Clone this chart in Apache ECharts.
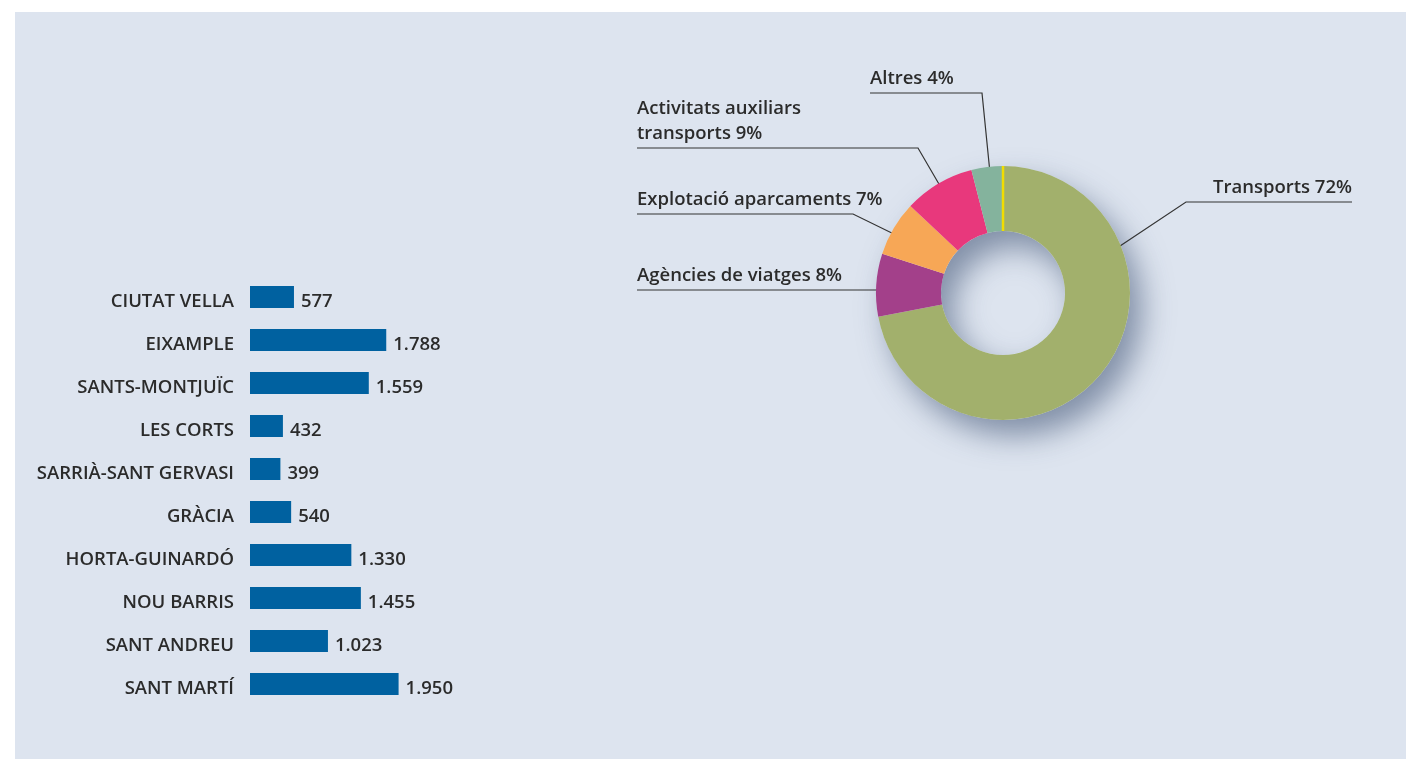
<!DOCTYPE html>
<html>
<head>
<meta charset="utf-8">
<script src="https://cdn.jsdelivr.net/npm/echarts@6/dist/echarts.min.js"></script>
<style>
  html, body { margin: 0; padding: 0; background: #fff; }
  #panel { position: absolute; left: 15px; top: 12px; width: 1391px; height: 747px; background: #dde4ef; }
  #chart { position: absolute; left: 0; top: 0; width: 1406px; height: 759px; }
</style>
</head>
<body>
<div id="panel"></div>
<div id="chart"></div>
<script>
// districtes (barres)
const districtes = [
  "CIUTAT VELLA", "EIXAMPLE", "SANTS-MONTJUÏC", "LES CORTS", "SARRIÀ-SANT GERVASI",
  "GRÀCIA", "HORTA-GUINARDÓ", "NOU BARRIS", "SANT ANDREU", "SANT MARTÍ"
];
const empreses = [577, 1788, 1559, 432, 399, 540, 1330, 1455, 1023, 1950];

// sectors (donut), en sentit horari des de dalt
const sectors = [
  "Transports", "Agències de viatges", "Explotació aparcaments",
  "Activitats auxiliars\ntransports", "Altres"
];
const percentatges = [72, 8, 7, 9, 4];
const colorsSectors = ["#a2b06c", "#a3408a", "#f7a756", "#e8387c", "#84b39d"];

const textColor = "#2b2b2b";
const fontFam = "'Open Sans', 'Noto Sans', sans-serif";
const fontSz = 18.5;

// geometria del donut
const pieCenter = [1003, 293];
const pieRadius = [62, 127];

// línies guia de les etiquetes: punts + on va el text
const guies = [
  { pts: [[1114, 250], [1186, 202], [1352, 202]], align: "right" },
  { pts: [[886, 290], [637, 290]], align: "left" },
  { pts: [[902, 238], [853, 214], [637, 214]], align: "left" },
  { pts: [[943, 191], [918, 148], [637, 148]], align: "left" },
  { pts: [[990, 173], [982, 93], [870, 93]], align: "left" }
];

const fmtNum = (v) => v.toLocaleString("de-DE");

const chart = echarts.init(document.getElementById("chart"));

const option = {
  backgroundColor: "transparent",
  textStyle: { fontFamily: fontFam, color: textColor },
  grid: { left: 250, top: 275.5, width: 152.4, height: 430, containLabel: false },
  xAxis: {
    type: "value",
    min: 0,
    max: 2000,
    show: false
  },
  yAxis: {
    type: "category",
    inverse: true,
    data: districtes,
    axisLine: { show: false },
    axisTick: { show: false },
    axisLabel: {
      margin: 16,
      formatter: (v) => "{d|" + v + "}",
      rich: {
        d: {
          fontSize: fontSz,
          fontWeight: 600,
          color: textColor,
          fontFamily: fontFam,
          padding: [9, 0, 0, 0]
        }
      }
    }
  },
  graphic: [
    {
      type: "line",
      silent: true,
      z: 100,
      shape: {
        x1: pieCenter[0], y1: pieCenter[1] - pieRadius[0],
        x2: pieCenter[0], y2: pieCenter[1] - pieRadius[1]
      },
      style: { stroke: "#f2dd00", lineWidth: 2.5 }
    }
  ],
  series: [
    {
      type: "bar",
      data: empreses,
      barWidth: 22,
      itemStyle: { color: "#0061a0" },
      label: {
        show: true,
        position: "right",
        distance: 7,
        offset: [0, 5],
        fontSize: fontSz,
        fontWeight: 600,
        color: textColor,
        fontFamily: fontFam,
        formatter: (p) => fmtNum(p.value)
      }
    },
    {
      // ombra del donut
      type: "pie",
      silent: true,
      center: pieCenter,
      radius: pieRadius,
      z: 1,
      label: { show: false },
      labelLine: { show: false },
      data: [{ value: 1 }],
      itemStyle: {
        color: "#dde4ef",
        shadowBlur: 30,
        shadowOffsetX: 12,
        shadowOffsetY: 16,
        shadowColor: "rgba(55,75,110,0.55)"
      }
    },
    {
      type: "pie",
      center: pieCenter,
      radius: pieRadius,
      startAngle: 90,
      clockwise: true,
      z: 2,
      data: sectors.map((n, i) => ({
        name: n,
        value: percentatges[i],
        itemStyle: { color: colorsSectors[i] }
      })),
      label: {
        show: true,
        position: "outside",
        formatter: "{b} {c}%",
        fontSize: fontSz,
        fontWeight: 600,
        lineHeight: 25,
        color: textColor,
        fontFamily: fontFam
      },
      labelLine: {
        show: true,
        lineStyle: { color: "#333", width: 1.2 }
      },
      labelLayout: (p) => {
        const g = guies[p.dataIndex];
        const end = g.pts[g.pts.length - 1];
        return {
          x: end[0],
          y: end[1] - 2,
          align: g.align,
          verticalAlign: "bottom",
          labelLinePoints: g.pts
        };
      }
    }
  ]
};

chart.setOption(option);
</script>
</body>
</html>
